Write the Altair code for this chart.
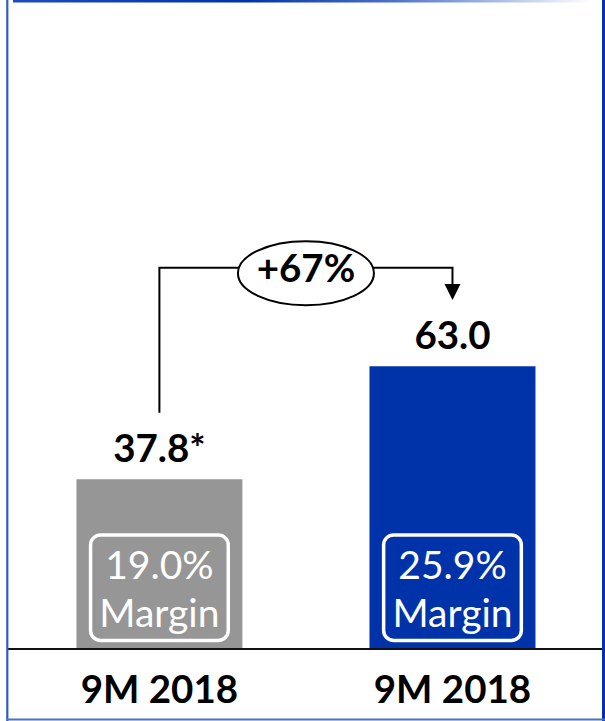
import altair as alt
import pandas as pd

# EBITDA per period (EUR m) with the margin printed inside each bar
periods = ["9M 2018", "9M 2018"]
values = [37.8, 63.0]
value_marks = ["*", ""]
margins = ["19.0%", "25.9%"]
bar_colors = ["#969696", "#0033A9"]

# canvas / scale layout
W, H = 605, 721
PX_PER_UNIT = 4.49
BASELINE_PX = 649
Y_MIN = -(H - BASELINE_PX) / PX_PER_UNIT
Y_MAX = Y_MIN + H / PX_PER_UNIT
STEP_PX = 298
FIRST_PX = 157
X_MIN = -FIRST_PX / STEP_PX
X_MAX = X_MIN + W / STEP_PX

xs = alt.Scale(domain=[X_MIN, X_MAX], nice=False, zero=False)
ys = alt.Scale(domain=[Y_MIN, Y_MAX], nice=False, zero=False)

BOX_HALF = 70 / STEP_PX
BOX_TOP, BOX_BOTTOM = 25.4, 1.9
MARGIN_TEXT_Y = 15.6

growth_label = f"{values[1] / values[0] - 1:+.0%}"
level = max(values) + 21.9          # height of the comparison bracket

pos = [0, 1]
bars_df = pd.DataFrame({
    "pos": pos,
    "period": periods,
    "value": values,
    "label": [f"{v:.1f}{m}" for v, m in zip(values, value_marks)],
    "margin": [f"{m}\nMargin" for m in margins],
    "color": bar_colors,
    "box_l": [p - BOX_HALF for p in pos],
    "box_r": [p + BOX_HALF for p in pos],
    "box_top": [BOX_TOP] * 2,
    "box_bottom": [BOX_BOTTOM] * 2,
    "margin_y": [MARGIN_TEXT_Y] * 2,
    "base": [0, 0],
})

X = alt.X("pos:Q", scale=xs, axis=None)
FONT = "Lato"
BOLD_SIZE = 38.5

bars = alt.Chart(bars_df).mark_bar(size=166).encode(
    x=X,
    y=alt.Y("value:Q", scale=ys, axis=None),
    color=alt.Color("color:N", scale=None),
)

boxes = alt.Chart(bars_df).mark_rect(
    fillOpacity=0, stroke="white", strokeWidth=3.5, cornerRadius=10
).encode(
    x=alt.X("box_l:Q", scale=xs, axis=None),
    x2="box_r:Q",
    y=alt.Y("box_top:Q", scale=ys, axis=None),
    y2="box_bottom:Q",
)

margin_text = alt.Chart(bars_df).mark_text(
    font=FONT, fontSize=39, color="white", lineBreak="\n", lineHeight=48,
    baseline="alphabetic", align="center",
).encode(x=X, y=alt.Y("margin_y:Q", scale=ys, axis=None), text="margin:N")

base_df = pd.DataFrame({"base": [0]})
baseline = alt.Chart(base_df).mark_rule(color="#111111", strokeWidth=2).encode(
    x=alt.value(8), x2=alt.value(603),
    y=alt.Y("base:Q", scale=ys, axis=None),
)

value_labels = alt.Chart(bars_df).mark_text(
    font=FONT, fontWeight="bold", fontSize=BOLD_SIZE, color="black",
    baseline="alphabetic", align="center", dy=-17,
).encode(x=X, y=alt.Y("value:Q", scale=ys, axis=None), text="label:N")

period_labels = alt.Chart(bars_df).mark_text(
    font=FONT, fontWeight="bold", fontSize=BOLD_SIZE, color="black",
    baseline="alphabetic", align="center", dy=54,
).encode(x=X, y=alt.Y("base:Q", scale=ys, axis=None), text="period:N")

# bracket from the first value to the second
path_df = pd.DataFrame({
    "order": [0, 1, 2, 3],
    "pos": [0, 0, 1, 1],
    "y": [values[0] + 14.8, level, level, values[1] + 17.5],
})
bracket = alt.Chart(path_df).mark_line(color="black", strokeWidth=2).encode(
    x=X, y=alt.Y("y:Q", scale=ys, axis=None), order="order:O"
)

head_df = pd.DataFrame({"pos": [1], "y": [values[1] + 16.5]})
arrow_head = alt.Chart(head_df).mark_point(
    shape="M-1,-1L1,-1L0,1Z", size=256, filled=True, color="black", opacity=1
).encode(x=X, y=alt.Y("y:Q", scale=ys, axis=None))

badge_df = pd.DataFrame({"pos": [0.5], "y": [level - 1.2], "ty": [level], "text": [growth_label]})
ELLIPSE = "M-1,0A1,0.47,0,1,1,1,0A1,0.47,0,1,1,-1,0Z"
badge = alt.Chart(badge_df).mark_point(
    shape=ELLIPSE, size=18496, filled=True, fill="white", stroke="black",
    strokeWidth=2, opacity=1,
).encode(x=X, y=alt.Y("y:Q", scale=ys, axis=None))

badge_text = alt.Chart(badge_df).mark_text(
    font=FONT, fontWeight="bold", fontSize=BOLD_SIZE, color="black",
    baseline="alphabetic", align="center", dy=14,
).encode(x=X, y=alt.Y("ty:Q", scale=ys, axis=None), text="text:N")

# slide frame
one = pd.DataFrame({"k": [0]})
frame_left = alt.Chart(one).mark_rule(color="#2D5BCB", strokeWidth=2.2).encode(
    x=alt.value(7.3), y=alt.value(0), y2=alt.value(H)
)
frame_right = alt.Chart(one).mark_rule(color="#0033AA", strokeWidth=3).encode(
    x=alt.value(603.5), y=alt.value(0), y2=alt.value(H)
)
frame_bottom = alt.Chart(one).mark_rule(color="#4472C4", strokeWidth=2).encode(
    x=alt.value(7), x2=alt.value(W), y=alt.value(719.5)
)
top_stripe = alt.Chart(one).mark_rect(
    color=alt.Gradient(
        gradient="linear", x1=0, x2=1, y1=0, y2=0,
        stops=[
            alt.GradientStop(offset=0, color="#1E4BBF"),
            alt.GradientStop(offset=0.4, color="#0033AA"),
            alt.GradientStop(offset=0.65, color="#4A6FC8"),
            alt.GradientStop(offset=1, color="#FFFFFF"),
        ],
    )
).encode(x=alt.value(13), x2=alt.value(592), y=alt.value(0), y2=alt.value(2.5))

chart = alt.layer(
    bars, boxes, margin_text, baseline, value_labels, period_labels,
    bracket, badge, badge_text, arrow_head,
    frame_left, frame_right, frame_bottom, top_stripe,
).properties(
    width=W, height=H, padding=0,
    autosize=alt.AutoSizeParams(type="none"),
    background="white",
).configure_view(strokeWidth=0)

chart.save("out.html", embed_options={"renderer": "svg", "actions": False})
